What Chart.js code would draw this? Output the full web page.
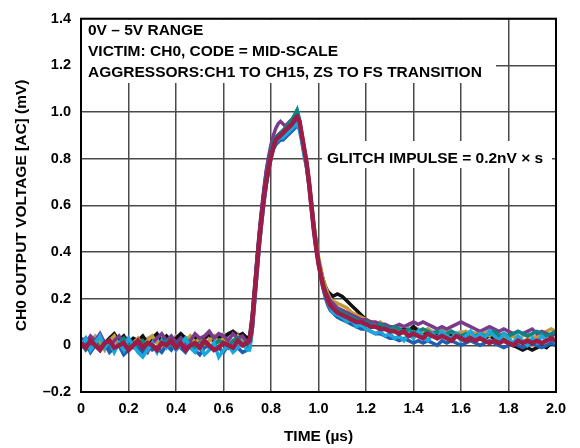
<!DOCTYPE html>
<html>
<head>
<meta charset="utf-8">
<script src="https://cdn.jsdelivr.net/npm/chart.js@4.4.1/dist/chart.umd.min.js"></script>
<style>
  html, body { margin: 0; padding: 0; background: #fff; }
  #wrap { width: 580px; height: 448px; }
</style>
</head>
<body>
<div id="wrap"><canvas id="chart" width="580" height="448"></canvas></div>
<script>
// time axis (µs): coarse on baseline/tail, finer across the glitch
const times = [
  0.00,0.02,0.04,0.06,0.08,0.10,0.12,0.14,0.16,0.18,0.20,0.22,0.24,0.26,0.28,0.30,0.32,0.34,
  0.36,0.38,0.40,0.42,0.44,0.46,0.48,0.50,0.52,0.54,0.56,0.58,0.60,0.62,0.64,0.66,0.68,0.70,
  0.71,0.72,0.73,0.74,0.75,0.76,0.77,0.78,0.79,0.80,0.81,0.82,0.83,0.84,0.85,0.86,0.87,0.88,
  0.89,0.90,0.91,0.92,0.93,0.94,0.95,0.96,0.97,0.98,0.99,1.00,1.01,1.02,1.03,1.04,1.05,1.06,
  1.08,1.10,1.12,1.14,1.16,1.18,1.20,1.22,1.24,1.26,1.28,1.30,1.32,1.34,1.36,1.38,1.40,1.42,
  1.44,1.46,1.48,1.50,1.52,1.54,1.56,1.58,1.60,1.62,1.64,1.66,1.68,1.70,1.72,1.74,1.76,1.78,
  1.80,1.82,1.84,1.86,1.88,1.90,1.92,1.94,1.96,1.98,2.00
];

// CH0 output (mV), one trace per aggressor colour
const crimson = [
  0.01,-0.01,0.02,0.00,-0.02,0.01, 0.02,-0.01,0.00,0.01,-0.02,0.00, 0.02,-0.01,0.01,0.00,-0.02,0.01,
  0.00,0.02,-0.01,0.01,-0.02,0.00, 0.01,-0.01,0.02,0.00,-0.02,-0.01, 0.01,0.00,-0.01,0.02,0.00,0.01,
  0.02,0.08,0.20,0.32,0.44,0.54, 0.63,0.70,0.76,0.81,0.85,0.88, 0.89,0.90,0.91,0.92,0.93,0.94,
  0.95,0.97,0.98,0.96,0.90,0.84, 0.78,0.70,0.60,0.50,0.42,0.35, 0.30,0.25,0.22,0.19,0.17,0.16,
  0.14,0.13,0.12,0.11,0.10,0.10, 0.09,0.08,0.08,0.07,0.07,0.06, 0.06,0.05,0.06,0.04,0.05,0.04,
  0.03,0.05,0.04,0.03,0.04,0.03, 0.02,0.04,0.03,0.02,0.03,0.02, 0.03,0.02,0.01,0.02,0.01,0.02,
  0.01,0.00,0.02,0.01,0.02,0.01, 0.02,0.01,0.02,0.03,0.02
];
const cyan = [
  0.00,0.03,-0.02,0.01,0.04,-0.01, 0.02,-0.03,0.01,-0.02,0.03,0.00, -0.03,-0.05,-0.02,0.01,-0.03,0.02,
  -0.01,0.02,-0.02,0.00,0.03,-0.01, -0.03,0.00,-0.04,-0.02,0.01,-0.05, -0.02,0.00,-0.03,-0.01,0.01,-0.02,
  -0.02,0.05,0.17,0.30,0.42,0.52, 0.61,0.69,0.76,0.81,0.85,0.87, 0.88,0.89,0.89,0.90,0.91,0.92,
  0.93,0.94,0.95,0.92,0.87,0.81, 0.76,0.69,0.60,0.51,0.43,0.36, 0.30,0.25,0.21,0.18,0.16,0.14,
  0.13,0.12,0.10,0.11,0.08,0.09, 0.07,0.06,0.05,0.06,0.04,0.05, 0.03,0.04,0.02,0.05,0.03,0.06,
  0.04,0.02,0.05,0.03,0.06,0.04, 0.03,0.05,0.02,0.04,0.06,0.03, 0.05,0.03,0.06,0.04,0.02,0.05,
  0.03,0.01,0.04,0.02,0.00,0.03, 0.01,0.04,0.02,0.03,0.01
];
const teal = [
  0.01,-0.02,0.00,0.02,-0.01,0.01, 0.00,-0.02,0.01,0.03,0.00,-0.01, 0.01,0.02,-0.01,0.00,-0.02,0.01,
  0.02,0.00,-0.01,0.01,0.03,0.00, -0.01,0.01,0.02,-0.01,0.00,0.02, 0.01,-0.01,0.02,0.03,0.00,-0.01,
  0.00,0.08,0.20,0.33,0.45,0.55, 0.64,0.72,0.78,0.83,0.87,0.89, 0.90,0.91,0.92,0.93,0.94,0.96,
  0.97,0.99,1.01,0.97,0.90,0.84, 0.78,0.70,0.61,0.51,0.43,0.36, 0.30,0.26,0.22,0.19,0.17,0.16,
  0.15,0.14,0.13,0.12,0.11,0.10, 0.10,0.09,0.08,0.09,0.08,0.07, 0.08,0.07,0.06,0.07,0.05,0.06,
  0.07,0.06,0.05,0.06,0.04,0.05, 0.06,0.05,0.04,0.05,0.03,0.04, 0.05,0.04,0.05,0.06,0.04,0.05,
  0.04,0.05,0.06,0.05,0.04,0.05, 0.06,0.05,0.04,0.05,0.06
];
const blue = [
  -0.01,0.01,-0.03,0.00,-0.02,0.01, -0.03,-0.01,0.00,-0.04,-0.02,0.01, -0.01,-0.03,0.00,-0.02,-0.01,-0.03,
  0.00,-0.02,0.01,-0.01,-0.03,0.00, -0.02,-0.04,-0.01,0.00,-0.02,-0.01, -0.03,0.00,-0.02,-0.01,-0.03,-0.02,
  -0.01,0.06,0.18,0.30,0.42,0.52, 0.61,0.69,0.75,0.80,0.84,0.86, 0.87,0.88,0.88,0.89,0.90,0.91,
  0.92,0.93,0.94,0.93,0.88,0.82, 0.77,0.69,0.60,0.50,0.42,0.35, 0.29,0.24,0.20,0.17,0.15,0.14,
  0.12,0.11,0.10,0.09,0.08,0.07, 0.07,0.06,0.05,0.05,0.04,0.03, 0.03,0.02,0.03,0.02,0.01,0.02,
  0.01,0.02,0.01,0.00,0.02,0.01, 0.02,0.01,0.00,0.01,0.02,0.01, 0.00,0.01,0.02,0.01,0.00,-0.01,
  0.00,0.01,0.00,-0.01,0.00,0.01, 0.00,-0.01,0.00,0.01,0.00
];
const purple = [
  0.03,0.01,0.04,0.02,0.05,0.01, -0.01,0.02,0.04,0.01,0.03,0.00, 0.02,-0.01,-0.03,0.01,0.03,0.05,
  0.02,0.04,0.01,0.03,0.00,0.02, 0.05,0.03,0.04,0.06,0.03,0.05, 0.04,0.02,0.05,0.03,0.04,0.01,
  0.03,0.11,0.23,0.36,0.48,0.58, 0.67,0.75,0.81,0.86,0.90,0.93, 0.95,0.96,0.95,0.94,0.95,0.96,
  0.97,0.98,0.97,0.94,0.88,0.82, 0.76,0.68,0.58,0.49,0.41,0.35, 0.30,0.26,0.23,0.21,0.19,0.18,
  0.16,0.15,0.14,0.13,0.12,0.11, 0.11,0.10,0.10,0.09,0.09,0.08, 0.08,0.09,0.08,0.09,0.10,0.09,
  0.10,0.09,0.08,0.07,0.08,0.07, 0.08,0.09,0.10,0.09,0.08,0.07, 0.06,0.07,0.08,0.07,0.06,0.07,
  0.06,0.05,0.06,0.05,0.06,0.07, 0.05,0.06,0.05,0.04,0.05
];
const gold = [
  0.00,0.02,-0.01,0.03,0.01,-0.02, 0.02,0.04,0.00,0.02,-0.01,0.01, 0.03,0.00,0.02,0.04,0.01,-0.02,
  0.00,0.03,0.01,-0.01,0.02,0.04, 0.01,0.03,0.00,0.02,0.04,0.01, 0.03,0.00,0.02,0.04,0.02,0.01,
  0.02,0.09,0.21,0.33,0.45,0.55, 0.64,0.71,0.77,0.82,0.86,0.88, 0.89,0.90,0.91,0.92,0.93,0.95,
  0.96,0.97,0.98,0.96,0.91,0.85, 0.79,0.71,0.62,0.53,0.45,0.38, 0.33,0.28,0.25,0.22,0.20,0.19,
  0.18,0.17,0.16,0.14,0.13,0.12, 0.11,0.10,0.09,0.10,0.08,0.07, 0.08,0.06,0.05,0.06,0.05,0.04,
  0.06,0.07,0.05,0.06,0.07,0.05, 0.06,0.04,0.05,0.06,0.04,0.05, 0.06,0.05,0.04,0.06,0.05,0.04,
  0.03,0.04,0.02,0.01,0.03,0.02, 0.04,0.05,0.06,0.07,0.06
];
const black = [
  0.01,0.03,0.00,0.02,0.04,0.01, 0.03,0.05,0.02,0.04,0.01,0.03, 0.02,0.04,0.01,0.03,0.05,0.02,
  0.04,0.02,0.03,0.05,0.03,0.02, 0.04,0.01,0.03,0.05,0.02,0.04, 0.03,0.05,0.06,0.04,0.05,0.03,
  0.04,0.12,0.24,0.36,0.47,0.57, 0.66,0.74,0.80,0.84,0.87,0.89, 0.90,0.91,0.92,0.93,0.93,0.94,
  0.95,0.96,0.97,0.95,0.90,0.84, 0.78,0.70,0.61,0.52,0.44,0.37, 0.32,0.28,0.25,0.23,0.22,0.21,
  0.22,0.21,0.19,0.17,0.15,0.13, 0.11,0.10,0.09,0.08,0.07,0.08, 0.07,0.06,0.07,0.06,0.08,0.06,
  0.05,0.06,0.05,0.04,0.06,0.05, 0.04,0.05,0.04,0.03,0.04,0.05, 0.04,0.03,0.04,0.03,0.02,0.03,
  0.01,0.00,-0.01,-0.02,-0.01,-0.02, -0.01,0.00,-0.01,0.01,0.00
];
const gray = [
  0.02,0.03,0.01,0.04,0.02,0.00, 0.03,0.01,0.02,0.04,0.01,0.03, 0.02,0.00,0.03,0.04,0.02,0.01,
  0.03,0.02,0.04,0.01,0.02,0.03, 0.00,0.02,0.04,0.03,0.01,0.03, 0.05,0.04,0.06,0.05,0.03,0.02,
  0.03,0.10,0.22,0.35,0.46,0.56, 0.65,0.72,0.78,0.83,0.86,0.89, 0.90,0.91,0.92,0.93,0.94,0.95,
  0.96,0.97,0.98,0.95,0.89,0.83, 0.77,0.69,0.59,0.50,0.42,0.36, 0.31,0.26,0.23,0.20,0.18,0.17,
  0.16,0.15,0.14,0.13,0.12,0.12, 0.11,0.10,0.09,0.09,0.08,0.08, 0.07,0.08,0.07,0.09,0.08,0.07,
  0.06,0.07,0.06,0.05,0.06,0.07, 0.06,0.05,0.06,0.05,0.06,0.05, 0.04,0.06,0.07,0.05,0.04,0.05,
  0.04,0.05,0.03,0.04,0.05,0.04, 0.03,0.04,0.05,0.04,0.05
];

const xTickLabels = ['0','0.2','0.4','0.6','0.8','1.0','1.2','1.4','1.6','1.8','2.0'];
const yTickLabels = ['\u20130.2','0','0.2','0.4','0.6','0.8','1.0','1.2','1.4'];

const noteLines = ['0V \u2013 5V RANGE', 'VICTIM: CH0, CODE = MID-SCALE', 'AGGRESSORS:CH1 TO CH15, ZS TO FS TRANSITION'];
const glitchNote = 'GLITCH IMPULSE = 0.2nV \u00d7 s';

// first listed is drawn on top
const traces = [
  { data: crimson, color: '#9c1b47', width: 4.5 },
  { data: cyan,    color: '#1ba7dc', width: 3.5 },
  { data: teal,    color: '#0a8582', width: 3.5 },
  { data: blue,    color: '#1f5fae', width: 3.5 },
  { data: purple,  color: '#7a3b8c', width: 3.5 },
  { data: gold,    color: '#c39a33', width: 3.5 },
  { data: black,   color: '#111111', width: 3.5 },
  { data: gray,    color: '#a3a3a3', width: 3.5 }
];

const FONT = '"Liberation Sans", Arial, sans-serif';

// white patches behind the notes, then the notes themselves
const notesPlugin = {
  id: 'notes',
  beforeDatasetsDraw(chart) {
    const ctx = chart.ctx;
    const a = chart.chartArea;
    ctx.save();
    ctx.fillStyle = '#fff';
    ctx.fillRect(a.left + 1, a.top + 1, 495 - a.left, 82 - a.top);
    ctx.fillRect(322, 141, 230, 27);
    ctx.fillStyle = '#000';
    ctx.font = 'bold 15.5px ' + FONT;
    ctx.textBaseline = 'alphabetic';
    noteLines.forEach((t, i) => ctx.fillText(t, 88, 35 + i * 21));
    ctx.fillText(glitchNote, 327, 163);
    ctx.restore();
  }
};

new Chart(document.getElementById('chart'), {
  type: 'line',
  data: {
    datasets: traces.map(tr => ({
      data: times.map((t, i) => ({ x: t, y: tr.data[i] })),
      borderColor: tr.color,
      borderWidth: tr.width,
      borderJoinStyle: 'miter',
      pointRadius: 0,
      tension: 0,
      fill: false
    }))
  },
  options: {
    responsive: false,
    animation: false,
    layout: { padding: { left: 0, right: 24, top: 14, bottom: 0 } },
    plugins: { legend: { display: false }, tooltip: { enabled: false } },
    scales: {
      x: {
        type: 'linear',
        min: 0, max: 2.0,
        afterFit: s => { s.height = 56; },
        afterBuildTicks: s => { s.ticks = xTickLabels.map(v => ({ value: parseFloat(v) })); },
        ticks: {
          color: '#000',
          font: { family: FONT, size: 14.5, weight: 'bold' },
          padding: 8,
          maxRotation: 0,
          callback: (v, i) => xTickLabels[i]
        },
        grid: { color: '#4a4a4a', lineWidth: 1.5, drawTicks: false },
        border: { color: '#000', width: 2 },
        title: {
          display: true,
          text: 'TIME (\u00b5s)',
          color: '#000',
          font: { family: FONT, size: 15.5, weight: 'bold' },
          padding: { top: 0, bottom: 2 }
        }
      },
      y: {
        min: -0.2, max: 1.4,
        afterFit: s => { s.width = 81; },
        afterBuildTicks: s => { s.ticks = yTickLabels.map(v => ({ value: parseFloat(v.replace('\u2013', '-')) })); },
        ticks: {
          color: '#000',
          font: { family: FONT, size: 14.5, weight: 'bold' },
          padding: 10,
          callback: (v, i) => yTickLabels[i]
        },
        grid: { color: '#4a4a4a', lineWidth: 1.5, drawTicks: false },
        border: { color: '#000', width: 2 },
        title: {
          display: true,
          text: 'CH0 OUTPUT VOLTAGE [AC] (mV)',
          color: '#000',
          font: { family: FONT, size: 15.5, weight: 'bold' },
          padding: { top: 12, bottom: 0 }
        }
      }
    }
  },
  plugins: [notesPlugin, {
    id: 'frame',
    afterDatasetsDraw(chart) {
      const a = chart.chartArea;
      const ctx = chart.ctx;
      ctx.save();
      ctx.strokeStyle = '#000';
      ctx.lineWidth = 2;
      ctx.strokeRect(a.left, a.top, a.right - a.left, a.bottom - a.top);
      ctx.restore();
    }
  }]
});
</script>
</body>
</html>
